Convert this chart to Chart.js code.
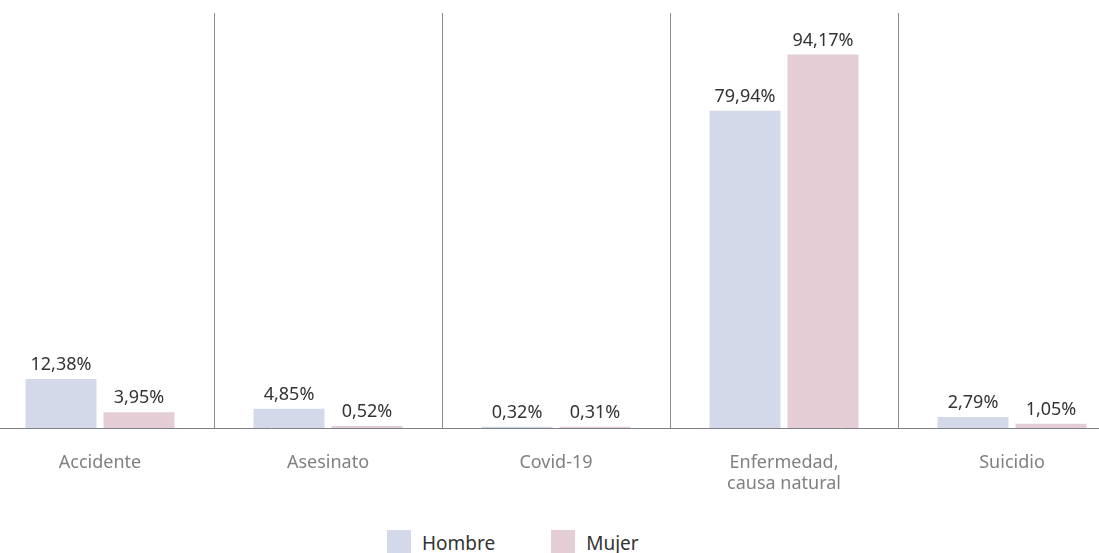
<!DOCTYPE html>
<html lang="es">
<head>
<meta charset="utf-8">
<title>Causas de muerte por sexo</title>
<script src="https://cdn.jsdelivr.net/npm/chart.js@4.4.1/dist/chart.umd.min.js"></script>
<style>
  html, body { margin: 0; padding: 0; background: #ffffff; overflow: hidden; }
  body { width: 1099px; height: 553px; position: relative; font-family: "Noto Sans", sans-serif; }
  #wrap { position: absolute; left: -14px; top: 0; width: 1140px; height: 510px; }
  #legend { position: absolute; top: 530px; left: 387px; display: flex; align-items: flex-start; gap: 0; }
  .item { display: flex; align-items: flex-start; margin-right: 56px; }
  .box { width: 24px; height: 23px; margin-right: 11px; }
  .lbl { font-size: 19px; color: #333333; line-height: 23px; margin-top: 2px; }
</style>
</head>
<body>
<div id="wrap"><canvas id="chart" width="1140" height="510"></canvas></div>
<div id="legend"></div>
<script>
// Categories (cause of death) and share of deaths per sex, in percent
const categories = ["Accidente", "Asesinato", "Covid-19", ["Enfermedad,", "causa natural"], "Suicidio"];
const seriesNames = ["Hombre", "Mujer"];
const hombre = [12.38, 4.85, 0.32, 79.94, 2.79];
const mujer = [3.95, 0.52, 0.31, 94.17, 1.05];
const seriesColors = ["#d4d9ea", "#e5cdd6"];

const fmt = v => v.toFixed(2).replace(".", ",") + "%";

// Writes each bar's value just above it
const valueLabels = {
  id: "valueLabels",
  afterDatasetsDraw(chart) {
    const ctx = chart.ctx;
    ctx.save();
    ctx.font = '18px "Noto Sans", sans-serif';
    ctx.fillStyle = "#333333";
    ctx.textAlign = "center";
    ctx.textBaseline = "bottom";
    chart.data.datasets.forEach((ds, i) => {
      chart.getDatasetMeta(i).data.forEach((bar, j) => {
        ctx.fillText(fmt(ds.data[j]), bar.x, bar.y - 5);
      });
    });
    ctx.restore();
  }
};

const chart = new Chart(document.getElementById("chart"), {
  type: "bar",
  data: {
    labels: categories,
    datasets: [
      { label: seriesNames[0], data: hombre, backgroundColor: seriesColors[0] },
      { label: seriesNames[1], data: mujer, backgroundColor: seriesColors[1] }
    ]
  },
  options: {
    responsive: false,
    animation: false,
    layout: { padding: { top: 13, left: 0, right: 0, bottom: 0 } },
    datasets: { bar: { categoryPercentage: 0.684, barPercentage: 0.91 } },
    plugins: { legend: { display: false }, tooltip: { enabled: false } },
    scales: {
      x: {
        grid: { display: true, offset: true, color: "#8c8c8c", lineWidth: 1, drawTicks: false },
        border: { display: true, color: "#7c7f88", width: 1 },
        ticks: { color: "#808080", font: { family: "Noto Sans", size: 18, lineHeight: 1.17 }, padding: 24 },
        afterFit(scale) { scale.height = 82; }
      },
      y: {
        display: false,
        min: 0,
        max: 104.6
      }
    }
  },
  plugins: [valueLabels]
});

// Legend built from the series names and colours
const legend = document.getElementById("legend");
seriesNames.forEach((name, i) => {
  const item = document.createElement("div");
  item.className = "item";
  const box = document.createElement("div");
  box.className = "box";
  box.style.background = seriesColors[i];
  const lbl = document.createElement("div");
  lbl.className = "lbl";
  lbl.textContent = name;
  item.appendChild(box);
  item.appendChild(lbl);
  legend.appendChild(item);
});
</script>
</body>
</html>
